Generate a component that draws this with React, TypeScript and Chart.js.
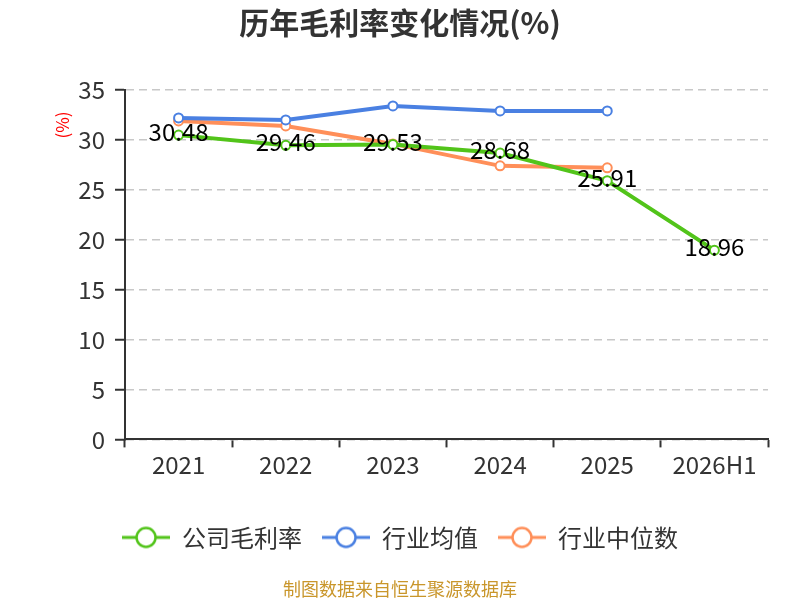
import React, { useEffect, useRef } from "react";
import { Chart, registerables } from "chart.js";

Chart.register(...registerables);

const years = ["2021", "2022", "2023", "2024", "2025", "2026H1"];
const companyMargin = [30.48, 29.46, 29.53, 28.68, 25.91, 18.96];
const industryAvg = [32.2, 32.0, 33.4, 32.9, 32.9, null];
const industryMedian = [31.9, 31.4, 29.6, 27.4, 27.2, null];
const yTicks = [0, 5, 10, 15, 20, 25, 30, 35];

const GREEN = "#52c41a";
const BLUE = "#4a80e2";
const ORANGE = "#ff8f59";
const FONT = "'Noto Sans CJK SC', 'Noto Sans', sans-serif";

// legend icon: short line with a hollow circle in the middle
const makeIcon = (color: string) => {
  const c = document.createElement("canvas");
  c.width = 48;
  c.height = 24;
  const ctx = c.getContext("2d")!;
  ctx.strokeStyle = color;
  ctx.lineWidth = 3;
  ctx.beginPath();
  ctx.moveTo(0, 12);
  ctx.lineTo(48, 12);
  ctx.stroke();
  ctx.beginPath();
  ctx.arc(24, 12, 9.5, 0, Math.PI * 2);
  ctx.fillStyle = "#fff";
  ctx.fill();
  ctx.lineWidth = 2.5;
  ctx.stroke();
  return c;
};

const extras = {
  id: "extras",
  afterDatasetsDraw(chart: any) {
    const { ctx } = chart;
    const meta = chart.getDatasetMeta(0);
    ctx.save();
    ctx.font = `24px ${FONT}`;
    ctx.fillStyle = "#000";
    ctx.textAlign = "center";
    ctx.textBaseline = "middle";
    meta.data.forEach((pt: any, i: number) => {
      ctx.fillText(companyMargin[i].toFixed(2), pt.x, pt.y - 3);
    });
    ctx.restore();
  },
  afterDraw(chart: any) {
    const { ctx } = chart;
    ctx.save();
    ctx.translate(63, 125);
    ctx.rotate(-Math.PI / 2);
    ctx.font = `17px ${FONT}`;
    ctx.fillStyle = "#ff0000";
    ctx.textAlign = "center";
    ctx.textBaseline = "middle";
    ctx.fillText("(%)", 0, 0);
    ctx.restore();
  },
};

const App = () => {
  const canvasRef = useRef<HTMLCanvasElement>(null);

  useEffect(() => {
    const ctx = canvasRef.current?.getContext("2d");
    if (!ctx) return;

    const series = [
      { label: "公司毛利率", data: companyMargin, color: GREEN },
      { label: "行业均值", data: industryAvg, color: BLUE },
      { label: "行业中位数", data: industryMedian, color: ORANGE },
    ];

    const chart = new Chart(ctx, {
      type: "line",
      data: {
        labels: years,
        datasets: series.map((s) => ({
          label: s.label,
          data: s.data,
          borderColor: s.color,
          backgroundColor: "#fff",
          borderWidth: 4,
          pointRadius: 4.5,
          pointBorderWidth: 2,
          pointBackgroundColor: "#fff",
          pointBorderColor: s.color,
          pointStyle: "circle",
          tension: 0,
        })),
      },
      options: {
        animation: false,
        responsive: false,
        layout: { padding: 0 },
        plugins: {
          title: {
            display: true,
            text: "历年毛利率变化情况(%)",
            color: "#333",
            font: { family: FONT, size: 30, weight: "bold" },
            padding: { top: 5, bottom: 49 },
          },
          subtitle: {
            display: true,
            position: "bottom",
            text: "制图数据来自恒生聚源数据库",
            color: "#c9962b",
            font: { family: FONT, size: 18 },
            padding: { top: 19, bottom: 0 },
          },
          legend: {
            position: "bottom",
            labels: {
              usePointStyle: true,
              pointStyleWidth: 48,
              padding: 20,
              color: "#333",
              font: { family: FONT, size: 24 },
              generateLabels: (c: any) =>
                c.data.datasets.map((d: any, i: number) => ({
                  text: d.label,
                  pointStyle: makeIcon(series[i].color),
                  fillStyle: "#fff",
                  strokeStyle: series[i].color,
                  lineWidth: 0,
                  datasetIndex: i,
                  hidden: !c.isDatasetVisible(i),
                  fontColor: "#333",
                })),
            },
          },
          tooltip: { enabled: false },
        },
        scales: {
          x: {
            offset: true,
            grid: {
              offset: true,
              drawOnChartArea: false,
              drawTicks: true,
              tickLength: 8,
              tickColor: "#333",
              tickWidth: 2,
            },
            border: { color: "#333", width: 2 },
            ticks: { color: "#333", padding: 3, font: { family: FONT, size: 24 } },
            afterFit: (s: any) => {
              s.height = 66;
            },
          },
          y: {
            min: 0,
            max: 35,
            afterBuildTicks: (s: any) => {
              s.ticks = yTicks.map((v) => ({ value: v }));
            },
            grid: {
              color: "#c8c8c8",
              lineWidth: 1.5,
              tickLength: 10,
              tickColor: "#333",
              tickWidth: 2,
            },
            border: { color: "#333", width: 2, dash: [8, 5] },
            ticks: { color: "#333", padding: 10, font: { family: FONT, size: 24 } },
            afterFit: (s: any) => {
              s.width = 125;
            },
          },
          // empty right-hand gutter so titles and legend stay centred on the page
          gutter: {
            type: "linear",
            position: "right",
            grid: { display: false },
            border: { display: false },
            ticks: { display: false },
            afterFit: (s: any) => {
              s.width = 32;
            },
          },
        },
      } as any,
      plugins: [extras],
    });

    return () => {
      chart.destroy();
    };
  }, []);

  return (
    <div style={{ position: "fixed", left: 0, top: 0, width: 800, height: 600, background: "#fff" }}>
      <canvas ref={canvasRef} width={800} height={600} style={{ width: 800, height: 600 }} />
    </div>
  );
};

export default App;
